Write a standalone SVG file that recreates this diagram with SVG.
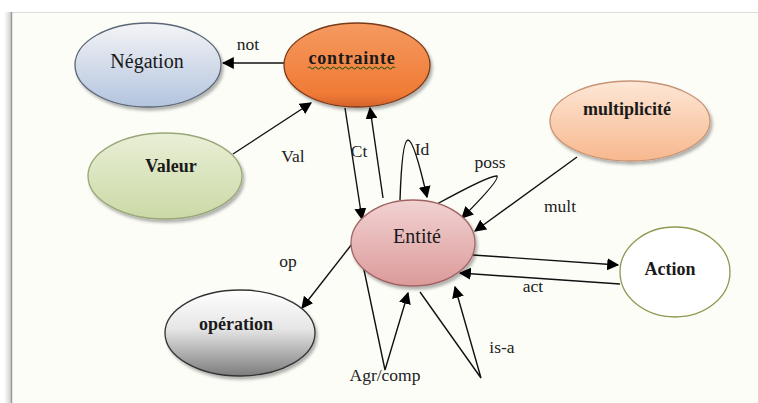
<svg xmlns="http://www.w3.org/2000/svg" width="758" height="403" viewBox="0 0 758 403">
  <defs>
    <linearGradient id="gNeg" x1="0" y1="0" x2="0" y2="1">
      <stop offset="0" stop-color="#f4f4f6"/>
      <stop offset="1" stop-color="#b3c4de"/>
    </linearGradient>
    <linearGradient id="gCon" x1="0" y1="0" x2="0" y2="1">
      <stop offset="0" stop-color="#f59a60"/>
      <stop offset="0.85" stop-color="#f07a36"/>
      <stop offset="1" stop-color="#d4622a"/>
    </linearGradient>
    <linearGradient id="gVal" x1="0" y1="0" x2="0" y2="1">
      <stop offset="0" stop-color="#e9efd6"/>
      <stop offset="1" stop-color="#cbd9a6"/>
    </linearGradient>
    <linearGradient id="gMul" x1="0" y1="0" x2="0" y2="1">
      <stop offset="0" stop-color="#fde7d6"/>
      <stop offset="1" stop-color="#f7b88e"/>
    </linearGradient>
    <linearGradient id="gEnt" x1="0" y1="0" x2="0" y2="1">
      <stop offset="0" stop-color="#f2d2d2"/>
      <stop offset="1" stop-color="#dc9a9a"/>
    </linearGradient>
    <linearGradient id="gOp" x1="0" y1="0" x2="0" y2="1">
      <stop offset="0" stop-color="#ffffff"/>
      <stop offset="0.45" stop-color="#e6e6e6"/>
      <stop offset="1" stop-color="#7c7c7c"/>
    </linearGradient>
    <linearGradient id="gEdge" x1="0" y1="0" x2="1" y2="0">
      <stop offset="0" stop-color="#ffffff"/>
      <stop offset="1" stop-color="#c8c8c8"/>
    </linearGradient>
    <filter id="shadow" x="-20%" y="-20%" width="150%" height="150%">
      <feDropShadow dx="2" dy="3" stdDeviation="1.5" flood-color="#000" flood-opacity="0.3"/>
    </filter>
    <marker id="arrow" viewBox="0 0 10 10" refX="9" refY="5" markerWidth="12" markerHeight="12" markerUnits="userSpaceOnUse" orient="auto">
      <path d="M0,0 L10,5 L0,10 z" fill="#000"/>
    </marker>
  </defs>
  <style>
    .node { filter: url(#shadow); stroke-width: 1.3; }
    .nlabel { font-size: 20px; text-anchor: middle; fill: #1a1a1a; }
    .bold { font-size: 18px; font-weight: bold; }
    .elabel { font-size: 17.5px; text-anchor: middle; fill: #222; }
    .edge { fill: none; stroke: #111; stroke-width: 1.4; marker-end: url(#arrow); }
  </style>

  <!-- page panel -->
  <rect x="0" y="0" width="758" height="403" fill="#ffffff"/>
  <rect x="4" y="12" width="8" height="391" fill="url(#gEdge)"/>
  <rect x="11" y="12" width="747" height="391" fill="#fdfdf8"/>
  <line x1="11" y1="12.5" x2="758" y2="12.5" stroke="#dcdcdc" stroke-width="1"/>
  <line x1="11.5" y1="12" x2="11.5" y2="403" stroke="#9a9a9a" stroke-width="1.5"/>

  <g font-family="'Liberation Serif', 'DejaVu Serif', serif">
  <!-- connectors -->
  <g id="connectors">
    <line class="edge" x1="284" y1="63" x2="223" y2="63"/>
    <line class="edge" x1="233" y1="154" x2="311" y2="103"/>
    <line class="edge" x1="345" y1="108" x2="362" y2="219"/>
    <line class="edge" x1="383" y1="198" x2="370" y2="108"/>
    <path class="edge" d="M400,200 Q402,140 408,140 Q414,140 427,197"/>
    <path class="edge" d="M437,204 Q490,175 497,176 Q500,180 462,218"/>
    <line class="edge" x1="577" y1="157" x2="475" y2="231"/>
    <line class="edge" x1="473" y1="255" x2="618" y2="265"/>
    <line class="edge" x1="620" y1="284" x2="460" y2="273"/>
    <line class="edge" x1="352" y1="244" x2="302" y2="308"/>
    <path class="edge" d="M363,265 L385,370 L408,293"/>
    <path class="edge" d="M420,292 L481,378 L455,287"/>

    <text class="elabel" x="248" y="50">not</text>
    <text class="elabel" x="293" y="162">Val</text>
    <text class="elabel" x="359" y="157">Ct</text>
    <text class="elabel" x="422" y="155">Id</text>
    <text class="elabel" x="490" y="168">poss</text>
    <text class="elabel" x="560" y="212">mult</text>
    <text class="elabel" x="533" y="292">act</text>
    <text class="elabel" x="288" y="267">op</text>
    <text class="elabel" x="385" y="381">Agr/comp</text>
    <text class="elabel" x="502" y="353">is-a</text>
  </g>

  <g id="negation">
    <ellipse class="node" cx="148" cy="65" rx="73" ry="42" fill="url(#gNeg)" stroke="#5d6878"/>
    <text class="nlabel" x="147" y="68">Négation</text>
  </g>

  <g id="contrainte">
    <ellipse class="node" cx="357" cy="65" rx="73" ry="42" fill="url(#gCon)" stroke="#7a3a18"/>
    <text class="nlabel bold" x="352" y="64" fill="#2d2a10" letter-spacing="0.8">contrainte</text>
    <path d="M308,68 q1.5,-2 3,0 t3,0 t3,0 t3,0 t3,0 t3,0 t3,0 t3,0 t3,0 t3,0 t3,0 t3,0 t3,0 t3,0 t3,0 t3,0 t3,0 t3,0 t3,0 t3,0 t3,0 t3,0 t3,0 t3,0 t3,0 t3,0 t3,0 t3,0 t3,0" fill="none" stroke="#3d5a18" stroke-width="1.1"/>
  </g>

  <g id="valeur">
    <ellipse class="node" cx="165" cy="176" rx="77" ry="43" fill="url(#gVal)" stroke="#98a878"/>
    <text class="nlabel bold" x="171" y="172">Valeur</text>
  </g>

  <g id="multiplicite">
    <ellipse class="node" cx="630" cy="121" rx="80" ry="40" fill="url(#gMul)" stroke="#c89476"/>
    <text class="nlabel bold" x="627" y="115">multiplicité</text>
  </g>

  <g id="entite">
    <ellipse class="node" cx="413" cy="243" rx="62" ry="43" fill="url(#gEnt)" stroke="#a06464"/>
    <text class="nlabel" x="417" y="243">Entité</text>
  </g>

  <g id="action">
    <ellipse cx="675" cy="272" rx="55" ry="45" fill="#ffffff" stroke="#8c9a52" stroke-width="1.3"/>
    <text class="nlabel bold" x="670" y="275">Action</text>
  </g>

  <g id="operation">
    <ellipse class="node" cx="240" cy="333" rx="75" ry="43" fill="url(#gOp)" stroke="#333333"/>
    <text class="nlabel bold" x="236" y="330">opération</text>
  </g>
  </g>
</svg>
